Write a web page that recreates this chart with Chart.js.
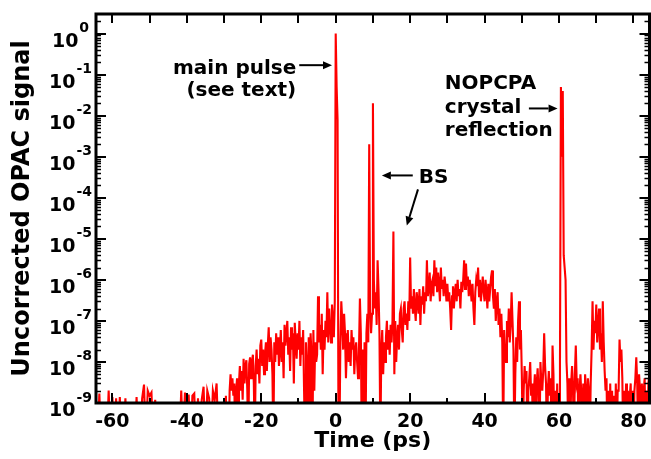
<!DOCTYPE html>
<html>
<head>
<meta charset="utf-8">
<script src="https://cdn.jsdelivr.net/npm/chart.js@4"></script>
<style>
  html, body { margin: 0; padding: 0; background: #fff; }
  #wrap { width: 651px; height: 459px; }
</style>
</head>
<body>
<div id="wrap"><canvas id="opac" width="651" height="459"></canvas></div>
<script>
// OPAC trace. 1e-10 = below the 1e-9 floor of the plot.
// quiet part: one value per 0.5 ps from -65 to -30.5 ps
const quietStart = -65;
const quietStep = 0.5;
const quietSignal = [
  1e-10, 1.3e-9, 1e-10, 1.7e-9, 1e-10, 1e-10, 1e-10, 1e-10, 2e-9, 1e-10,        // -65
  1.4e-9, 1e-10, 1.3e-9, 1e-10, 1.4e-9, 1e-10, 1e-10, 1.3e-9, 1e-10, 1e-10,     // -60
  1e-10, 1e-10, 1e-10, 1.4e-9, 1e-10, 1e-10, 1.3e-9, 2.8e-9, 1e-10, 2e-9,       // -55
  1.5e-9, 1.8e-9, 1e-10, 1.2e-9, 1e-10, 1e-10, 1e-10, 1e-10, 1e-10, 1e-10,      // -50
  1e-10, 1e-10, 1e-10, 1e-10, 1e-10, 1e-10, 1e-10, 2e-9, 1e-10, 1.8e-9,         // -45
  1e-10, 1.6e-9, 1e-10, 1.5e-9, 1.7e-9, 1e-10, 1.3e-9, 1e-10, 1.2e-9, 2.5e-9,   // -40
  1e-10, 2e-9, 1.3e-9, 1e-10, 2e-9, 1.2e-9, 3e-9, 1e-10, 1e-10, 1e-10           // -35
];

// active part: one value per 0.25 ps from -30 to 85 ps
const activeStart = -30;
const activeStep = 0.25;
const activeSignal = [
  1e-10, 1e-10, 1.5e-9, 1e-10, 1e-10, 1e-10, 2e-9, 5e-9, 2e-9, 4e-9,                       // -30
  1.5e-9, 3e-9, 1e-10, 2e-9, 4e-9, 1e-10, 3e-9, 8e-9, 2e-9, 6e-9,
  1.2e-9, 1.2e-8, 3e-9, 8e-9, 1.1e-8, 2e-9, 1e-10, 9e-9, 1.3e-8, 4e-9,                     // -25
  1e-8, 1.5e-8, 3e-9, 1e-10, 8e-9, 2e-8, 5e-9, 1.2e-8, 3e-9, 2.5e-8,
  3.5e-8, 8e-9, 2e-8, 5e-9, 1.5e-8, 3e-8, 6e-9, 2.5e-8, 7e-8, 1e-8,                        // -20
  4e-8, 2e-8, 5e-9, 1e-10, 3e-8, 1e-8, 5e-8, 1.5e-8, 4e-8, 8e-9,
  2e-8, 6e-8, 1e-8, 3e-8, 4e-9, 8e-8, 2.5e-8, 5e-8, 1e-7, 1.5e-8,                          // -15
  4e-8, 6e-9, 7e-8, 2e-8, 5e-8, 3e-9, 9e-8, 3e-8, 1.2e-8, 5e-8,
  2e-8, 1e-7, 8e-9, 4e-8, 1.5e-8, 6e-8, 2e-9, 1e-10, 3e-8, 8e-9,                           // -10
  1e-10, 4e-8, 1e-10, 5e-8, 1.5e-8, 1e-10, 6e-8, 2e-9, 3e-8, 1e-8,
  1.5e-8, 4e-7, 3e-8, 8e-8, 2e-8, 1.5e-7, 5e-9, 6e-8, 2e-8, 1e-7,                          // -5
  4e-8, 5e-7, 3e-8, 2e-7, 8e-8, 3e-8, 2.5e-7, 1e-7, 4e-8, 3e-7,
  1, 5e-2, 8e-3, 1e-10, 1e-10, 3e-8, 3e-7, 1e-7, 2e-8, 1.5e-7,                             // 0
  5e-8, 4e-9, 2e-8, 6e-8, 1e-8, 3e-8, 8e-9, 6e-8, 2e-8, 4e-8,
  5e-9, 2e-8, 3e-8, 1e-8, 4e-9, 2e-8, 3.5e-7, 5e-8, 1e-10, 2e-8,                           // 5
  1e-10, 3e-8, 1e-10, 5e-8, 1.5e-7, 3e-8, 2e-3, 2e-7, 5e-8, 1.5e-7,
  2e-2, 1e-6, 2e-7, 5e-7, 8e-8, 3e-6, 6e-7, 5e-8, 1e-10, 2e-8,                             // 10
  6e-8, 5e-9, 3e-8, 1e-8, 4e-8, 1e-7, 2e-8, 6e-8, 1.5e-8, 8e-8,
  3e-8, 1e-7, 1.5e-5, 5e-9, 1e-7, 1e-8, 4e-8, 8e-8, 2e-8, 1.5e-7,                          // 15
  2e-7, 6e-8, 3e-8, 2e-7, 3e-7, 8e-8, 1.5e-7, 6e-8, 3e-7, 1e-7,
  3.5e-6, 2e-7, 4e-7, 1.5e-7, 6e-7, 2e-7, 1e-7, 5e-7, 3e-7, 1.5e-7,                        // 20
  6e-7, 8e-8, 4e-7, 2.5e-7, 7e-7, 1.5e-7, 5e-7, 3e-7, 3e-6, 4e-7,
  6e-7, 1.5e-6, 3e-7, 8e-7, 1e-6, 4e-7, 3e-6, 7e-7, 2e-6, 5e-7,                            // 25
  1.5e-6, 8e-7, 3e-7, 2e-6, 6e-7, 1e-6, 4e-7, 1.2e-6, 7e-7, 3e-7,
  8e-7, 3e-7, 5e-7, 2e-7, 6e-8, 4e-7, 7e-7, 2e-7, 5e-7, 8e-7,                              // 30
  3e-7, 1e-6, 4e-7, 6e-7, 2e-7, 9e-7, 5e-7, 1e-6, 3e-6, 6e-7,
  2.5e-6, 7e-7, 1.2e-6, 4e-7, 1e-6, 6e-7, 3e-7, 8e-7, 2e-7, 8e-8,                          // 35
  5e-7, 1e-6, 7e-7, 2e-6, 4e-7, 1e-6, 3e-7, 6e-7, 1.2e-6, 5e-7,
  3e-7, 1e-6, 5e-7, 2e-7, 8e-7, 3e-7, 6e-7, 1.2e-6, 1.7e-6, 4e-7,                          // 40
  2e-7, 6e-7, 1e-7, 3e-7, 5e-7, 8e-8, 2e-7, 4e-8, 1.5e-7, 3e-8,
  1e-10, 6e-8, 2e-8, 1e-8, 1e-7, 4e-8, 2e-7, 3e-8, 8e-8, 5e-7,                             // 45
  1e-7, 2e-8, 1e-10, 5e-9, 4e-8, 1e-8, 1e-7, 3e-7, 2e-8, 6e-8,
  5e-9, 1e-10, 2e-9, 8e-9, 3e-9, 6e-9, 1e-10, 2e-9, 4e-9, 1e-8,                            // 50
  1.5e-9, 3e-9, 1e-10, 2e-9, 5e-9, 1e-10, 3e-9, 7e-9, 2e-9, 1e-10,
  1e-8, 3e-9, 2e-9, 6e-9, 5e-8, 8e-9, 3e-9, 1e-10, 2e-9, 6e-9,                             // 55
  1.5e-9, 4e-9, 1e-10, 2.5e-8, 5e-9, 1e-10, 2e-9, 1e-10, 3e-9, 1e-10,
  1e-10, 1e-8, 5e-2, 1e-3, 4e-2, 4e-6, 2e-6, 1e-6, 1e-8, 3e-9,                             // 60
  1e-10, 4e-9, 1e-10, 3e-9, 8e-9, 2e-9, 1e-10, 5e-9, 2.5e-8, 3e-9,
  4e-9, 1e-10, 2e-9, 5e-9, 1.5e-9, 1e-10, 3e-9, 1e-10, 5e-9, 2e-9,                         // 65
  1e-10, 4e-9, 2e-9, 1e-10, 3e-9, 2e-8, 3e-7, 2e-8, 1e-7, 5e-8,
  2.5e-7, 3e-8, 8e-8, 2e-7, 2e-8, 5e-8, 1e-8, 3e-7, 3e-8, 6e-9,                            // 70
  2e-9, 4e-9, 1e-10, 2e-9, 1e-10, 3e-9, 1e-10, 2e-9, 1e-10, 1.5e-9,
  1e-10, 3e-9, 1e-10, 2e-9, 2e-9, 3.5e-8, 1e-8, 2e-8, 4e-9, 1e-10,                         // 75
  2e-9, 1e-10, 3e-9, 1e-10, 2e-9, 1e-10, 1.5e-9, 3e-9, 1e-10, 2e-9,
  1e-10, 2e-9, 4e-9, 1.3e-8, 3e-9, 1e-10, 5e-9, 2e-9, 1e-10, 3e-9,                         // 80
  1e-10, 2e-9, 4e-9, 1e-10, 2e-9, 1e-10, 3e-9, 5e-9, 1e-10, 2e-9,
  1e-10                                                                                    // 85
];

const xTickLabels = [-60, -40, -20, 0, 20, 40, 60, 80];
const xTickMarks = [-60, -50, -40, -30, -20, -10, 0, 10, 20, 30, 40, 50, 60, 70, 80];
const yDecades = [-9, -8, -7, -6, -5, -4, -3, -2, -1, 0];

// annotation texts, anchored in data units (time in ps, signal value)
const notes = [
  { text: 'main pulse', t: -10.6, v: 0.105, align: 'right' },
  { text: '(see text)', t: -10.6, v: 0.03, align: 'right' },
  { text: 'BS', t: 22.3, v: 2.3e-4, align: 'left' },
  { text: 'NOPCPA', t: 29.3, v: 0.045, align: 'left' },
  { text: 'crystal', t: 29.3, v: 0.0115, align: 'left' },
  { text: 'reflection', t: 29.3, v: 3.2e-3, align: 'left' }
];
const arrows = [
  { from: [-9.8, 0.17], to: [-1.0, 0.17] },
  { from: [20.7, 3.5e-4], to: [12.4, 3.5e-4] },
  { from: [22.1, 1.6e-4], to: [19.1, 2.1e-5] },
  { from: [51.9, 0.015], to: [59.6, 0.015] }
];

const FONT = '"DejaVu Sans", sans-serif';

const points = quietSignal.map((v, i) => ({ x: quietStart + i * quietStep, y: v }))
    .concat(activeSignal.map((v, i) => ({ x: activeStart + i * activeStep, y: v })));

const framePlugin = {
    id: 'frame',
    afterDatasetsDraw(chart) {
        const { ctx, chartArea: { left, right, top, bottom }, scales: { x, y } } = chart;
        ctx.save();
        ctx.strokeStyle = '#000';
        ctx.fillStyle = '#000';

        // inward ticks on the time axis (bottom and top)
        ctx.lineWidth = 2;
        ctx.beginPath();
        xTickMarks.forEach(t => {
            const px = Math.round(x.getPixelForValue(t));
            const len = t % 20 === 0 ? 10 : 5;
            ctx.moveTo(px, bottom);
            ctx.lineTo(px, bottom - len);
            ctx.moveTo(px, top);
            ctx.lineTo(px, top + 9);
        });
        ctx.stroke();

        // decade and minor ticks on the log axis (left and right)
        ctx.beginPath();
        yDecades.forEach(d => {
            const py = Math.round(y.getPixelForValue(Math.pow(10, d)));
            ctx.moveTo(left, py); ctx.lineTo(left + 10, py);
            ctx.moveTo(right, py); ctx.lineTo(right - 10, py);
        });
        ctx.stroke();
        ctx.lineWidth = 1.5;
        ctx.beginPath();
        yDecades.forEach(d => {
            for (let k = 2; k <= 9; k++) {
                const val = k * Math.pow(10, d);
                if (val >= y.max) break;
                const py = Math.round(y.getPixelForValue(val)) + 0.5;
                ctx.moveTo(left, py); ctx.lineTo(left + 5, py);
                ctx.moveTo(right, py); ctx.lineTo(right - 5, py);
            }
        });
        ctx.stroke();

        // frame
        ctx.lineWidth = 3;
        ctx.strokeRect(left, top, right - left, bottom - top);

        // decade labels 10^n
        ctx.textBaseline = 'alphabetic';
        ctx.textAlign = 'left';
        yDecades.forEach(d => {
            const py = y.getPixelForValue(Math.pow(10, d));
            ctx.font = 'bold 19px ' + FONT;
            const wBase = ctx.measureText('10').width;
            ctx.font = 'bold 14px ' + FONT;
            const wExp = ctx.measureText(String(d)).width;
            const x0 = 70 - (wBase + wExp) / 2;
            ctx.font = 'bold 19px ' + FONT;
            ctx.fillText('10', x0, py + 13);
            ctx.font = 'bold 14px ' + FONT;
            ctx.fillText(String(d), x0 + wBase + 1, py - 1.5);
        });

        // annotations
        ctx.font = 'bold 20px ' + FONT;
        notes.forEach(n => {
            ctx.textAlign = n.align;
            ctx.fillText(n.text, x.getPixelForValue(n.t), y.getPixelForValue(n.v));
        });
        ctx.lineWidth = 2;
        arrows.forEach(a => {
            const x1 = x.getPixelForValue(a.from[0]), y1 = y.getPixelForValue(a.from[1]);
            const x2 = x.getPixelForValue(a.to[0]), y2 = y.getPixelForValue(a.to[1]);
            const ang = Math.atan2(y2 - y1, x2 - x1);
            const head = 9, half = 4;
            const bx = x2 - head * Math.cos(ang), by = y2 - head * Math.sin(ang);
            ctx.beginPath();
            ctx.moveTo(x1, y1);
            ctx.lineTo(bx, by);
            ctx.stroke();
            ctx.beginPath();
            ctx.moveTo(x2, y2);
            ctx.lineTo(bx + half * Math.sin(ang), by - half * Math.cos(ang));
            ctx.lineTo(bx - half * Math.sin(ang), by + half * Math.cos(ang));
            ctx.closePath();
            ctx.fill();
        });
        ctx.restore();
    }
};

const ctx = document.getElementById('opac').getContext('2d');
new Chart(ctx, {
    type: 'line',
    data: {
        datasets: [{
            data: points,
            borderColor: '#ff0000',
            backgroundColor: 'transparent',
            borderWidth: 2.1,
            pointRadius: 0,
            tension: 0,
            clip: 0
        }]
    },
    options: {
        responsive: false,
        animation: false,
        layout: { padding: { top: 14, right: 1.5, left: 0, bottom: 0 } },
        plugins: { legend: { display: false }, tooltip: { enabled: false } },
        scales: {
            x: {
                type: 'linear',
                min: -64.4,
                max: 84.3,
                afterBuildTicks: s => { s.ticks = xTickLabels.map(v => ({ value: v })); },
                afterFit: s => { s.height = 56; s.paddingLeft = 0; s.paddingRight = 0; },
                grid: { display: false, drawTicks: false },
                border: { display: false },
                ticks: { color: '#000', padding: 8, maxRotation: 0, autoSkip: false,
                         font: { family: FONT, size: 19, weight: 'bold' } },
                title: { display: true, text: 'Time (ps)', color: '#000',
                         font: { family: FONT, size: 22, weight: 'bold' },
                         padding: { top: 0, bottom: 5 } }
            },
            y: {
                type: 'logarithmic',
                min: 1e-9,
                max: 3,
                afterFit: s => { s.width = 96; s.paddingTop = 0; s.paddingBottom = 0; },
                grid: { display: false, drawTicks: false },
                border: { display: false },
                ticks: { display: false },
                title: { display: true, text: 'Uncorrected OPAC signal', color: '#000',
                         font: { family: FONT, size: 24, weight: 'bold' },
                         padding: { top: 8, bottom: 0 } }
            }
        }
    },
    plugins: [framePlugin]
});
</script>
</body>
</html>
